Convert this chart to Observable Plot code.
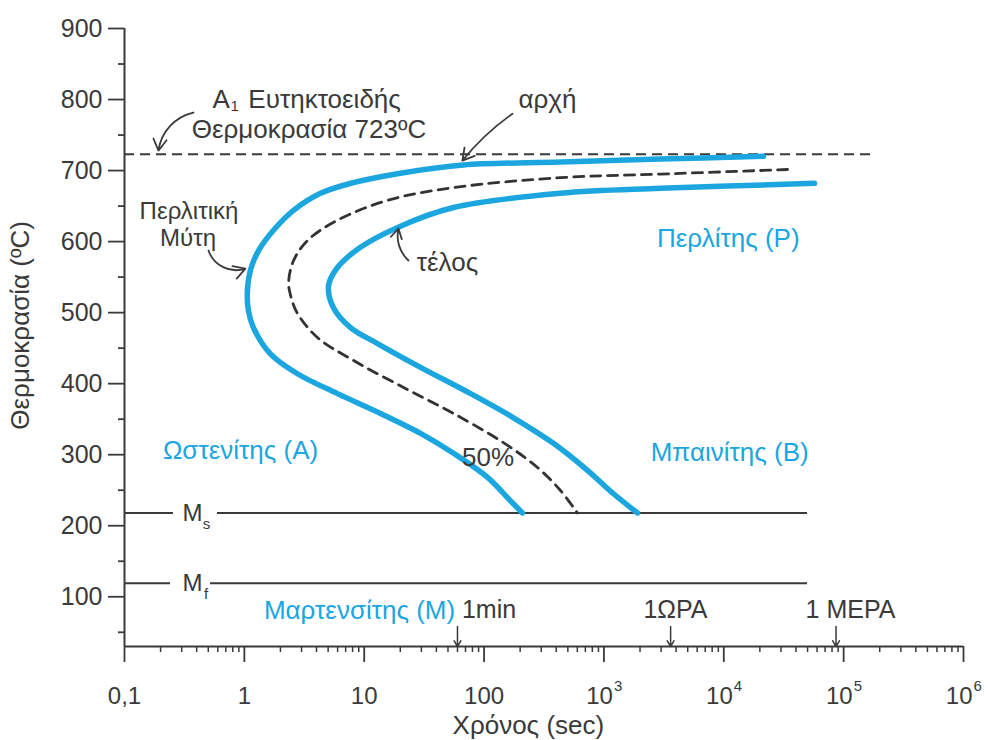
<!DOCTYPE html>
<html><head><meta charset="utf-8">
<script src="https://cdn.jsdelivr.net/npm/d3@7"></script>
<script src="https://cdn.jsdelivr.net/npm/@observablehq/plot@0.6"></script>
<style>
body{margin:0;background:#fff}
#chart svg{display:block}
</style>
</head><body><div id="chart"></div>
<script>
const blue = "#1ba6df";
const ink = "#3a3a3a";
const font = "'Liberation Sans', Arial, sans-serif";

// Start of transformation (αρχή): time (s), temperature (°C)
const startTime = [21400, 2965, 434, 67.3, 21.3, 8.14, 4.32, 2.57, 1.75, 1.31, 1.12, 1.06, 1.08, 1.19, 1.65, 2.77, 5.98, 13.7, 29.5, 55.6, 107, 166, 209];
const startTemp = [720, 716.3, 712, 707.8, 697, 683, 668, 644, 616, 587, 559, 531, 503, 479, 442, 414, 386, 358, 330, 302, 268, 235, 218];
// 50% transformation
const halfTime = [34000, 2965, 434, 55.6, 15.6, 5.98, 3.36, 2.57, 2.34, 2.45, 2.77, 4.07, 8.14, 21.3, 55.6, 145, 279, 434, 601];
const halfTemp = [701.5, 695, 690, 676, 658, 630, 601.5, 573, 542, 522, 499, 465, 432.6, 394.6, 358, 317, 282, 249.6, 218];
// End of transformation (τέλος)
const endTime = [57100, 2965, 434, 55.6, 19.0, 9.3, 5.98, 5.04, 5.54, 7.69, 12.9, 29.5, 77.1, 176, 379, 729, 1202, 1905];
const endTemp = [682, 675, 668, 648, 620, 592, 563.5, 538, 507, 479, 456.5, 423, 386, 352, 316, 278, 245, 218];

// Reference temperatures
const A1 = 723, A1End = 1.7e5;
const Ms = 218, Mf = 119;
const msSegments = [[0.1, 0.256], [0.597, 5e4]];
const mfSegments = [[0.1, 0.242], [0.522, 5e4]];

// Axis ticks
const xMajor = [0.1, 1, 10, 100, 1e3, 1e4, 1e5, 1e6];
const xPlainLabels = ["0,1", "1", "10", "100", "", "", "", ""];
const xPowers = [1e3, 1e4, 1e5, 1e6];
const xPowerExp = ["3", "4", "5", "6"];
const yMajor = [100, 200, 300, 400, 500, 600, 700, 800, 900];
const yMinor = [50, 150, 250, 350, 450, 550, 650, 750, 850];
const xMinor = [];
for (let e = -1; e < 6; e++) for (let m = 2; m <= 9; m++) xMinor.push(m * 10 ** e);

// Time markers
const markTime = [60, 3600, 86400];
const markLabel = ["1min", "1ΩΡΑ", "1 ΜΕΡΑ"];
const markLabelTime = [110, 3955, 1.14e5];

// Region labels (blue)
const regionText = ["Περλίτης (P)", "Ωστενίτης (A)", "Μπαινίτης (B)", "Μαρτενσίτης (M)"];
const regionTime = [1.09e4, 0.929, 1.12e4, 9.14];
const regionTemp = [604, 306, 303, 81];

// Annotation labels (dark, centred)
const noteText = ["Θερμοκρασία 723ºC", "αρχή", "τέλος", "50%"];
const noteTime = [3.46, 338, 49.5, 108];
const noteTemp = [758, 800, 571, 296];
const noseText = ["Περλιτική", "Μύτη"];
const noseTime = [0.345, 0.339];
const noseTemp = [642, 605];

// Annotation arrows
const arrowA1 = {x1: 0.376, y1: 781.7, x2: 0.192, y2: 728};
const arrowStart = {x1: 172.6, y1: 780, x2: 66, y2: 714};
const arrowNose = {x1: 0.502, y1: 587.5, x2: 1.02, y2: 562};
const arrowEnd = {x1: 23.4, y1: 573.4, x2: 19.3, y2: 618.4};

const pts = (xs, ys) => xs.map((x, i) => ({t: x, T: ys[i]}));
const arrowOpts = {x1: "x1", y1: "y1", x2: "x2", y2: "y2", stroke: ink, strokeWidth: 1.8, headLength: 11};
const txt = (s, x, y, o = {}) => Plot.text([s], {x, y, text: d => d, fontSize: 26, fill: ink, ...o});

const chart = Plot.plot({
  width: 988,
  height: 740,
  marginLeft: 124,
  marginRight: 25,
  marginTop: 28,
  marginBottom: 94,
  style: {fontFamily: font, background: "#fff", color: ink},
  x: {type: "log", domain: [0.1, 1e6], axis: null},
  y: {domain: [30, 900], axis: null},
  marks: [
    // axes
    Plot.axisY(yMajor, {tickSize: 16, tickPadding: 6, fontSize: 25, stroke: ink, fill: ink, strokeWidth: 1.8, label: null, tickFormat: d => String(d)}),
    Plot.axisY(yMinor, {tickSize: 6, stroke: ink, strokeWidth: 1.8, label: null, tickFormat: () => ""}),
    Plot.axisX(xMajor, {tickSize: 16, tickPadding: 24, fontSize: 24, stroke: ink, fill: ink, strokeWidth: 1.8, label: null, tickFormat: d => xPlainLabels[xMajor.indexOf(d)]}),
    Plot.axisX(xMinor, {tickSize: 6, stroke: ink, strokeWidth: 1.5, label: null, tickFormat: () => ""}),
    Plot.ruleX([0.1], {y1: 30, y2: 900, stroke: ink, strokeWidth: 2}),
    Plot.ruleY([30], {x1: 0.1, x2: 1e6, stroke: ink, strokeWidth: 2}),
    Plot.text(xPowers, {x: d => d, frameAnchor: "bottom", text: () => "10", textAnchor: "end", dx: 9, dy: 40, lineAnchor: "top", fontSize: 24, fill: ink}),
    Plot.text(xPowers, {x: d => d, frameAnchor: "bottom", text: (d, i) => xPowerExp[i], textAnchor: "start", dx: 10, dy: 34, lineAnchor: "top", fontSize: 15, fill: ink}),
    Plot.text(["Χρόνος (sec)"], {x: 54.6, frameAnchor: "bottom", text: d => d, textAnchor: "start", dy: 79, lineAnchor: "middle", fontSize: 26, fill: ink}),
    Plot.text(["Θερμοκρασία (ºC)"], {y: 482, frameAnchor: "left", text: d => d, textAnchor: "middle", rotate: -90, dx: -104, fontSize: 26, fill: ink}),

    // reference lines
    Plot.ruleY([A1], {x1: 0.1, x2: A1End, stroke: ink, strokeWidth: 2, strokeDasharray: "10,6"}),
    Plot.ruleY(msSegments, {y: () => Ms, x1: d => d[0], x2: d => d[1], stroke: ink, strokeWidth: 2}),
    Plot.ruleY(mfSegments, {y: () => Mf, x1: d => d[0], x2: d => d[1], stroke: ink, strokeWidth: 2}),
    txt("M", 0.369, Ms, {fontSize: 24}),
    txt("s", 0.483, Ms, {fontSize: 15, dy: 11}),
    txt("M", 0.369, Mf, {fontSize: 24}),
    txt("f", 0.48, Mf, {fontSize: 15, dy: 11}),

    // transformation curves
    Plot.line(pts(startTime, startTemp), {x: "t", y: "T", stroke: blue, strokeWidth: 5.5, curve: "catmull-rom"}),
    Plot.line(pts(endTime, endTemp), {x: "t", y: "T", stroke: blue, strokeWidth: 5.5, curve: "catmull-rom"}),
    Plot.line(pts(halfTime, halfTemp), {x: "t", y: "T", stroke: "#333", strokeWidth: 2.8, strokeDasharray: "10,7", curve: "catmull-rom"}),

    // labels
    Plot.text(regionText, {x: (d, i) => regionTime[i], y: (d, i) => regionTemp[i], text: d => d, fontSize: 26, fill: blue}),
    Plot.text(noteText, {x: (d, i) => noteTime[i], y: (d, i) => noteTemp[i], text: d => d, fontSize: 26, fill: ink}),
    Plot.text(noseText, {x: (d, i) => noseTime[i], y: (d, i) => noseTemp[i], text: d => d, fontSize: 24, fill: ink}),
    txt("A", 0.542, 800, {textAnchor: "start"}),
    txt("1", 0.766, 800, {textAnchor: "start", fontSize: 15, dy: 7}),
    txt("Ευτηκτοειδής", 1.08, 800, {textAnchor: "start"}),
    Plot.text(markLabel, {x: (d, i) => markLabelTime[i], y: 81, text: d => d, fontSize: 25, fill: ink}),

    // arrows
    Plot.arrow([arrowA1], {...arrowOpts, bend: -35}),
    Plot.arrow([arrowStart], {...arrowOpts, bend: -8}),
    Plot.arrow([arrowNose], {...arrowOpts, bend: -45}),
    Plot.arrow([arrowEnd], {...arrowOpts, bend: 30}),
    Plot.arrow(markTime, {x1: d => d, x2: d => d, y1: 58, y2: 30, stroke: ink, strokeWidth: 1.5, headLength: 8})
  ]
});
document.getElementById("chart").appendChild(chart);
</script>
</body></html>
